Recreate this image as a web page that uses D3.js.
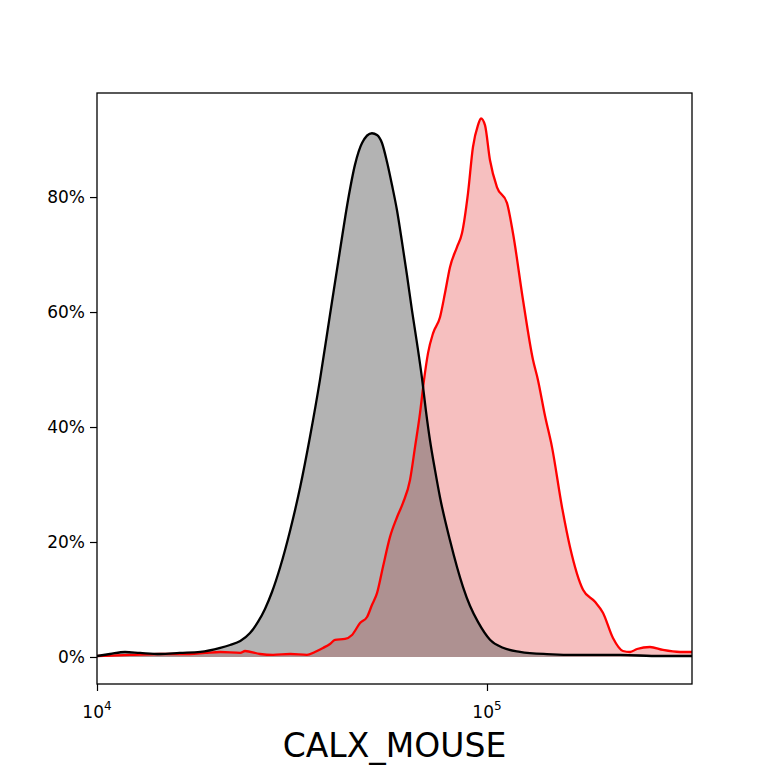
<!DOCTYPE html>
<html>
<head>
<meta charset="utf-8">
<script src="https://cdn.jsdelivr.net/npm/d3@7"></script>
<style>
  body { margin: 0; background: #fff; }
  text { font-family: "DejaVu Sans", sans-serif; fill: #000; }
</style>
</head>
<body>
<div id="chart"></div>
<script>
// control sample (black)
const blackX = [10000, 10800, 11800, 12900, 14500, 16300, 18400, 20700, 21930, 23300, 24680, 25870,
  26960, 28100, 29500, 31300, 33200, 35170, 37300, 39570, 42000, 44030, 45860, 47820, 50700,
  52240, 53800, 55420, 57070, 58780, 60540, 62360, 64220, 66150, 68130, 69800, 71420, 73580,
  75770, 80370, 86780, 90440, 94820, 101800, 109900, 121500, 142500, 173200, 219300, 277700, 335500];
const blackY = [0.17, 0.52, 0.87, 0.7, 0.52, 0.7, 0.87, 1.57, 2.09, 2.78, 4.17, 6.09,
  8.35, 11.3, 15.65, 22.1, 29.6, 38.3, 48.2, 59.5, 70.8, 79.5, 85.6, 89.4, 91.1,
  90.8, 89.4, 86.1, 82.1, 77.7, 72.2, 66.4, 60.3, 54.6, 48.5, 42.6, 37.7, 32.5,
  27.8, 20.3, 12.2, 8.9, 6.1, 3.0, 1.6, 0.9, 0.5, 0.35, 0.35, 0.17, 0.17];

// stained sample (red)
const redX = [10000, 12150, 14500, 17320, 18920, 20700, 23300, 23970, 26170, 28270, 31300, 34550,
  36200, 37970, 39570, 40780, 43240, 45070, 47260, 49250, 50700, 52240, 54120, 56410, 58780,
  60900, 63480, 65380, 67340, 68950, 70620, 72720, 75770, 78040, 80370, 83770, 86270, 89400,
  92060, 94820, 96520, 98830, 101800, 106100, 112500, 116600, 123700, 131200, 135100, 140800,
  146800, 155700, 163300, 176300, 189200, 198300, 210400, 223200, 232700, 242500, 261800,
  282700, 312600, 335500];
const redY = [0.17, 0.35, 0.52, 0.52, 0.7, 0.87, 0.7, 1.04, 0.52, 0.35, 0.52, 0.35,
  0.87, 1.57, 2.26, 2.96, 3.13, 3.83, 5.91, 6.96, 9.04, 11.1, 15.7, 20.9, 24.3,
  26.8, 30.8, 36.5, 42.4, 48.2, 52.9, 56.3, 59.1, 63.3, 67.8, 71.3, 73.7, 80.7,
  88.7, 92.5, 93.7, 92.5, 86.4, 81.7, 79.0, 73.7, 62.1, 51.7, 48.2, 42.0,
  36.5, 26.1, 19.1, 11.7, 9.6, 7.7, 3.3, 1.04, 0.87, 1.39, 1.74,
  1.22, 0.87, 0.87];

const yTicks = [0, 20, 40, 60, 80];
const xTicks = [1e4, 1e5];
const xLabel = "CALX_MOUSE";

const W = 768, H = 768;
const mLeft = 97, mRight = 692, mTop = 93, mBottom = 684;

const svg = d3.select("#chart").append("svg")
  .attr("width", W).attr("height", H);

const x = d3.scaleLog().domain([1e4, 335500]).range([mLeft, mRight]);
const y = d3.scaleLinear().domain([-4.7, 98.1]).range([mBottom, mTop]);

const black = blackX.map((v, i) => [v, blackY[i]]);
const red = redX.map((v, i) => [v, redY[i]]);

const area = d3.area()
  .x(d => x(d[0])).y0(y(0)).y1(d => y(d[1]))
  .curve(d3.curveMonotoneX);
const line = d3.line()
  .x(d => x(d[0])).y(d => y(d[1]))
  .curve(d3.curveMonotoneX);

const defs = svg.append("defs");
defs.append("clipPath").attr("id", "plotclip")
  .append("rect").attr("x", mLeft).attr("y", mTop)
  .attr("width", mRight - mLeft).attr("height", mBottom - mTop);
defs.append("clipPath").attr("id", "redclip")
  .append("path").attr("d", area(red));

const g = svg.append("g").attr("clip-path", "url(#plotclip)");

// fills
g.append("path").attr("d", area(red)).attr("fill", "#f6bfbf");
g.append("path").attr("d", area(black)).attr("fill", "#b3b3b3");
// overlap of both fills
g.append("g").attr("clip-path", "url(#redclip)")
  .append("path").attr("d", area(black)).attr("fill", "#ae9191");

// lines
g.append("path").attr("d", line(red))
  .attr("fill", "none").attr("stroke", "#ff0000").attr("stroke-width", 2.3);
g.append("path").attr("d", line(black))
  .attr("fill", "none").attr("stroke", "#000").attr("stroke-width", 2.3);

// frame
svg.append("rect")
  .attr("x", mLeft).attr("y", mTop)
  .attr("width", mRight - mLeft).attr("height", mBottom - mTop)
  .attr("fill", "none").attr("stroke", "#000").attr("stroke-width", 1.3);

// y axis
const yAxis = svg.append("g")
  .attr("transform", `translate(${mLeft},0)`)
  .call(d3.axisLeft(y).tickValues(yTicks).tickSize(7).tickPadding(5)
    .tickFormat(d => d + "%"));
yAxis.select(".domain").remove();
yAxis.selectAll(".tick line").attr("stroke-width", 1.2);
yAxis.selectAll(".tick text")
  .style("font-family", "DejaVu Sans").style("font-size", "17px");

// x axis
const xAxis = svg.append("g")
  .attr("transform", `translate(0,${mBottom})`)
  .call(d3.axisBottom(x).tickValues(xTicks).tickSize(7).tickFormat(""));
xAxis.select(".domain").remove();
xAxis.selectAll(".tick line").attr("stroke-width", 1.2);

const xl = svg.selectAll(".xlab").data(xTicks).enter()
  .append("text")
  .attr("class", "xlab")
  .attr("x", d => x(d))
  .attr("y", 718)
  .attr("text-anchor", "middle")
  .style("font-size", "17px");
xl.append("tspan").text("10");
xl.append("tspan")
  .attr("dy", -8)
  .style("font-size", "12px")
  .text(d => Math.round(Math.log10(d)));

svg.append("text")
  .attr("x", (mLeft + mRight) / 2)
  .attr("y", 757)
  .attr("text-anchor", "middle")
  .style("font-size", "33px")
  .text(xLabel);
</script>
</body>
</html>
